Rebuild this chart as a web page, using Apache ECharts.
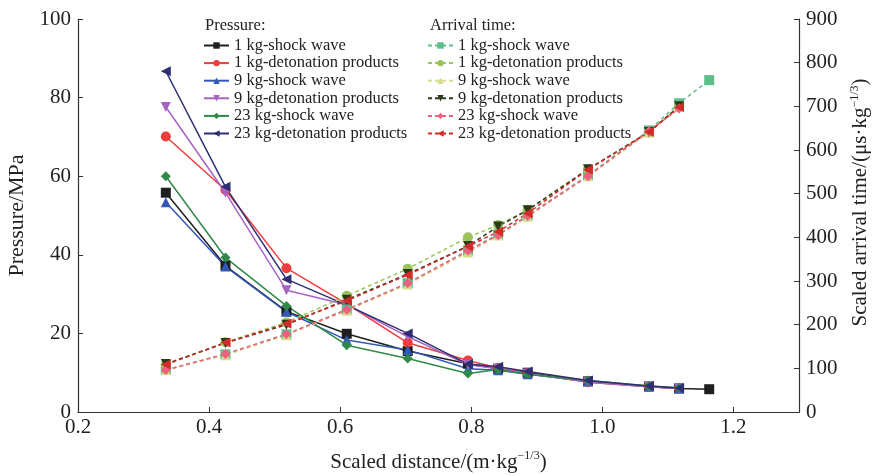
<!DOCTYPE html>
<html>
<head>
<meta charset="utf-8">
<script src="https://cdn.jsdelivr.net/npm/echarts@6/dist/echarts.min.js"></script>
<style>
  html, body { margin: 0; padding: 0; background: #fff; }
  #main { width: 875px; height: 476px; }
</style>
</head>
<body>
<div id="main"></div>
<script>
// scaled distance of each measuring point
const xDist = [0.334, 0.425, 0.518, 0.610, 0.703, 0.795, 0.841, 0.886, 0.978, 1.071, 1.117, 1.163];

// pressure, MPa
const p1Shock = [55.8, 37.2, 25.6, 19.9, 15.5, 12.3, 11.0, 10.0, 7.8, 6.5, 6.0, 5.8];
const p1Det   = [70.1, 56.5, 36.6, 27.5, 17.6, 13.1, 11.2, 9.8, 7.6, 6.4, 6.0];
const p9Shock = [53.4, 37.0, 25.5, 18.3, 15.8, 11.0, 10.6, 9.6, 7.8, 6.5, 6.0];
const p9Det   = [77.6, 55.8, 31.0, 27.3, 19.2, 12.0, 11.0, 9.8, 7.6, 6.4, 6.0];
const p23Shock = [60.0, 39.3, 27.0, 17.0, 13.6, 9.8, 10.8, 9.6, 8.0, 6.6, 6.2];
const p23Det   = [86.7, 57.3, 33.8, 27.2, 20.0, 12.2, 11.5, 10.3, 8.0, 6.6, 6.1];

// scaled arrival time, us·kg^-1/3
const t1Shock = [97, 132, 178, 235, 295, 370, 407, 450, 542, 645, 707, 760];
const t1Det   = [108, 160, 205, 266, 328, 400, 428, 463, 556, 640, 700];
const t9Shock = [96, 130, 176, 232, 292, 365, 404, 447, 540, 640, 700];
const t9Det   = [110, 158, 200, 257, 316, 380, 425, 462, 556, 641, 700];
const t23Shock = [96, 133, 178, 234, 295, 369, 405, 449, 540, 643, 695];
const t23Det   = [109, 159, 202, 255, 314, 379, 413, 455, 555, 641, 698];

const pressureNames = ['1 kg-shock wave', '1 kg-detonation products', '9 kg-shock wave',
  '9 kg-detonation products', '23 kg-shock wave', '23 kg-detonation products'];
const timeNames = pressureNames.map(n => n + ' ');

const FONT = '"Liberation Serif", "DejaVu Serif", serif';

const pairs = vals => vals.map((v, i) => [xDist[i], v]);

function pSeries(name, vals, color, symbol, rot) {
  return {
    name: name, type: 'line', yAxisIndex: 0, data: pairs(vals),
    symbol: symbol, symbolSize: 10, symbolRotate: rot || 0,
    itemStyle: { color: color },
    lineStyle: { color: color, width: 1.5 },
    z: 2
  };
}
function tSeries(name, vals, color, symbol, rot) {
  return {
    name: name, type: 'line', yAxisIndex: 1, data: pairs(vals),
    symbol: symbol, symbolSize: 10, symbolRotate: rot || 0,
    itemStyle: { color: color },
    lineStyle: { color: color, width: 1.5, type: [4, 3] },
    z: 3
  };
}

const chart = echarts.init(document.getElementById('main'));

const supRich = { sup: { fontSize: 12, fontFamily: FONT, color: '#222', verticalAlign: 'top', lineHeight: 24 } };

const option = {
  animation: false,
  grid: { left: 78, right: 76, top: 19, bottom: 64, outerBoundsMode: 'none', containLabel: false },
  graphic: [
    { type: 'text', left: 205, top: 17, style: { text: 'Pressure:', font: '16.5px ' + FONT, fill: '#222' } },
    { type: 'text', left: 430, top: 17, style: { text: 'Arrival time:', font: '16.5px ' + FONT, fill: '#222' } }
  ],
  legend: [
    {
      data: pressureNames, orient: 'vertical', left: 198, top: 32,
      itemWidth: 25, itemHeight: 8, itemGap: 0.6,
      textStyle: { fontFamily: FONT, fontSize: 16.5, color: '#222', lineHeight: 17 }
    },
    {
      data: timeNames, orient: 'vertical', left: 422, top: 32,
      itemWidth: 25, itemHeight: 8, itemGap: 0.6,
      textStyle: { fontFamily: FONT, fontSize: 16.5, color: '#222', lineHeight: 17 }
    }
  ],
  xAxis: {
    type: 'value', min: 0.2, max: 1.3, interval: 0.2,
    name: 'Scaled distance/(m·kg{sup|−1/3})', nameLocation: 'middle', nameGap: 38,
    nameTextStyle: { fontFamily: FONT, fontSize: 21, color: '#222', rich: supRich },
    axisLine: { lineStyle: { color: '#333', width: 1.2 } },
    axisTick: { inside: true, length: 5, lineStyle: { color: '#333' } },
    axisLabel: { fontFamily: FONT, fontSize: 21, color: '#222', margin: 5,
      formatter: v => v.toFixed(1), showMaxLabel: false },
    splitLine: { show: false }
  },
  yAxis: [
    {
      type: 'value', min: 0, max: 100, interval: 20, position: 'left',
      name: 'Pressure/MPa', nameLocation: 'middle', nameGap: 50, nameRotate: 90,
      nameTextStyle: { fontFamily: FONT, fontSize: 22, color: '#222' },
      axisLine: { show: true, lineStyle: { color: '#333', width: 1.2 } },
      axisTick: { show: true, inside: true, length: 5, lineStyle: { color: '#333' } },
      axisLabel: { fontFamily: FONT, fontSize: 21, color: '#222', margin: 7 },
      splitLine: { show: false }
    },
    {
      type: 'value', min: 0, max: 900, interval: 100, position: 'right',
      name: 'Scaled arrival time/(μs·kg{sup|−1/3})', nameLocation: 'middle', nameGap: 49, nameRotate: 90,
      nameTextStyle: { fontFamily: FONT, fontSize: 21, color: '#222', rich: supRich, padding: [0, 0, 0, 26] },
      axisLine: { show: true, lineStyle: { color: '#333', width: 1.2 } },
      axisTick: { show: true, inside: true, length: 5, lineStyle: { color: '#333' } },
      axisLabel: { fontFamily: FONT, fontSize: 21, color: '#222', margin: 7 },
      splitLine: { show: false }
    }
  ],
  series: [
    pSeries(pressureNames[0], p1Shock, '#1f1f1f', 'rect'),
    pSeries(pressureNames[1], p1Det, '#f03c3c', 'circle'),
    pSeries(pressureNames[2], p9Shock, '#3158b8', 'triangle'),
    pSeries(pressureNames[3], p9Det, '#a763c4', 'triangle', 180),
    pSeries(pressureNames[4], p23Shock, '#2f8a47', 'diamond'),
    pSeries(pressureNames[5], p23Det, '#2d2f70', 'triangle', 90),
    tSeries(timeNames[0], t1Shock, '#5cbf8a', 'rect'),
    tSeries(timeNames[1], t1Det, '#9cc45a', 'circle'),
    tSeries(timeNames[2], t9Shock, '#d6dc8c', 'triangle'),
    tSeries(timeNames[3], t9Det, '#2b3a1a', 'triangle', 180),
    tSeries(timeNames[4], t23Shock, '#f0607e', 'diamond'),
    tSeries(timeNames[5], t23Det, '#d42a2a', 'triangle', 90)
  ]
};

chart.setOption(option);
</script>
</body>
</html>
